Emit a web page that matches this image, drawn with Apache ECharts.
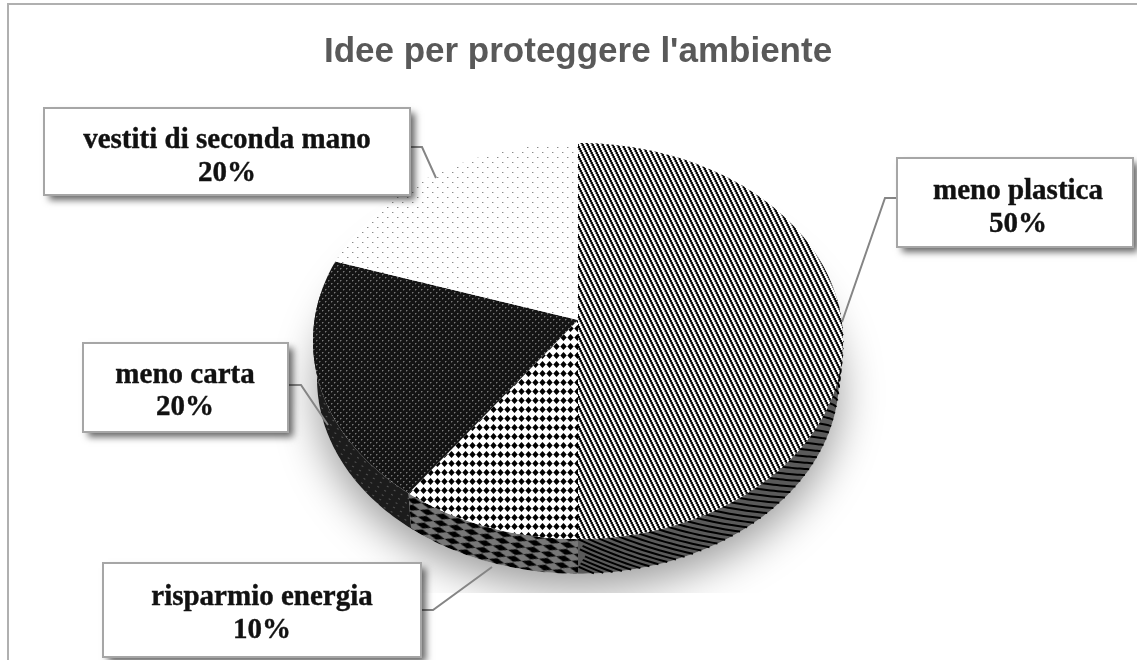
<!DOCTYPE html>
<html>
<head>
<meta charset="utf-8">
<style>
html,body{margin:0;padding:0;background:#fff;}
#chart{width:1137px;height:660px;}
</style>
<script src="https://cdn.jsdelivr.net/npm/echarts@6/dist/echarts.min.js"></script>
</head>
<body>
<div id="chart"></div>
<script>
// order is clockwise from 12 o'clock
var categories = ['meno plastica', 'risparmio energia', 'meno carta', 'vestiti di seconda mano'];
var values = [50, 10, 20, 20];
var chartTitle = "Idee per proteggere l'ambiente";

var total = values.reduce(function (a, b) { return a + b; }, 0);

// tilted disc: the apex sits above the ellipse centre because of the perspective
var cx = 578, cy = 320, R = 263.5, H = 195.8, K = 0.106;
var depth = 38, baseShrink = 0.015;

// level 0 is the top rim, level 1 the bottom rim of the side wall
function project(deg, level) {
    var t = deg * Math.PI / 180;
    var u = Math.sin(t), v = Math.cos(t), s = 1 / (1 + K * v);
    var scale = 1 - baseShrink * (level || 0);
    return [cx + R * u * s * scale, cy - H * v * s * scale + depth * (level || 0)];
}

function tile(w, h, paint) {
    var c = document.createElement('canvas');
    c.width = w;
    c.height = h;
    paint(c.getContext('2d'), w, h);
    return c;
}
function pattern(img, rotation) {
    return { image: img, repeat: 'repeat', rotation: rotation || 0 };
}
function diamond(g, x, y, rx, ry) {
    g.beginPath();
    g.moveTo(x - rx, y);
    g.lineTo(x, y - ry);
    g.lineTo(x + rx, y);
    g.lineTo(x, y + ry);
    g.closePath();
    g.fill();
}

var stripeTile = tile(5, 10, function (g, w, h) {
    var cols = ['#000', '#222', '#f4f4f4', '#fff', '#888'];
    for (var y = 0; y < h; y++) {
        for (var x = 0; x < w; x++) {
            g.fillStyle = cols[(x - Math.floor(y / 2) + 10) % 5];
            g.fillRect(x, y, 1, 1);
        }
    }
});
var diamondTile = tile(7, 9, function (g, w, h) {
    g.fillStyle = '#fff';
    g.fillRect(0, 0, w, h);
    g.fillStyle = '#000';
    diamond(g, 3.5, 4.5, 3.2, 3.5);
});
var darkTile = tile(6, 6, function (g, w, h) {
    g.fillStyle = '#141414';
    g.fillRect(0, 0, w, h);
    g.fillStyle = '#777';
    g.fillRect(1, 1, 1, 1);
    g.fillRect(4, 4, 1, 1);
    g.fillStyle = '#444';
    g.fillRect(2, 1, 1, 1);
    g.fillRect(5, 4, 1, 1);
    g.fillRect(1, 2, 1, 1);
    g.fillRect(4, 5, 1, 1);
});
var dotTile = tile(10, 10, function (g, w, h) {
    g.fillStyle = '#fff';
    g.fillRect(0, 0, w, h);
    g.fillStyle = '#8a8a8a';
    g.fillRect(2, 2, 1, 1);
    g.fillRect(7, 7, 1, 1);
    g.fillStyle = '#d0d0d0';
    g.fillRect(3, 2, 1, 1);
    g.fillRect(8, 7, 1, 1);
});
var wallDiamondTile = tile(16, 7, function (g, w, h) {
    g.fillStyle = '#777';
    g.fillRect(0, 0, w, h);
    g.fillStyle = '#000';
    diamond(g, 8, 3.5, 8, 3);
});
var wallDarkTile = tile(8, 5, function (g, w, h) {
    g.fillStyle = '#1c1c1c';
    g.fillRect(0, 0, w, h);
    g.fillStyle = '#555';
    g.fillRect(2, 2, 2, 1);
});

var faceTiles = [stripeTile, diamondTile, darkTile, dotTile];

function sliceRange(i) {
    var before = 0;
    for (var n = 0; n < i; n++) {
        before += values[n];
    }
    return [before / total * 360, (before + values[i]) / total * 360];
}

function renderShadow() {
    var rim = [];
    for (var d = 0; d < 360; d += 3) {
        rim.push(project(d, 1));
    }
    return {
        type: 'group',
        children: [{
            type: 'polygon',
            shape: { points: rim },
            style: { fill: '#fff', shadowColor: 'rgba(0,0,0,0.4)', shadowBlur: 44, shadowOffsetX: 0, shadowOffsetY: 15 }
        }, {
            type: 'rect',
            z2: 2,
            shape: { x: 20, y: 593, width: 1117, height: 67 },
            style: { fill: '#fff' }
        }]
    };
}

// the plastica wall has slanted stripes that wrap round the rim
function wallStripes(from, to) {
    var out = [];
    for (var a = to + 20; a > from; a -= 2) {
        var lean = 8 + (a - 90) * 0.07;
        var pts = [];
        for (var t = 0; t <= 1.001; t += 0.1) {
            var deg = a - lean * t;
            if (deg <= to) {
                pts.push(project(deg, t));
            }
        }
        if (pts.length > 1) {
            out.push(pts);
        }
    }
    return out;
}

function wallPolygon(from, to, fill) {
    var pts = [];
    for (var d = from; d < to; d += 1) { pts.push(project(d, 0)); }
    pts.push(project(to, 0));
    pts.push(project(to, 1));
    for (var e = to - 1; e >= from; e -= 1) { pts.push(project(e, 1)); }
    return { type: 'polygon', z2: 1, shape: { points: pts }, style: { fill: fill } };
}

function renderSlice(params) {
    var i = params.dataIndex;
    var range = sliceRange(i);
    var children = [];
    // side wall, only the part facing the viewer
    var from = Math.max(range[0], 82), to = Math.min(range[1], 278);
    if (i === 0) {
        children.push(wallPolygon(from, to, '#5a5a5a'));
        wallStripes(from, to).forEach(function (pts) {
            children.push({
                type: 'polyline',
                z2: 2,
                shape: { points: pts },
                style: { fill: null, stroke: '#000', lineWidth: 2 }
            });
        });
    } else if (i === 1) {
        children.push(wallPolygon(from, to, pattern(wallDiamondTile, 16 * Math.PI / 180)));
    } else if (to > from) {
        children.push(wallPolygon(from, to, pattern(wallDarkTile, 30 * Math.PI / 180)));
    }
    var face = [[cx, cy]];
    for (var t = range[0]; t < range[1]; t += 1) { face.push(project(t, 0)); }
    face.push(project(range[1], 0));
    children.push({
        type: 'polygon',
        z2: 5,
        shape: { points: face },
        style: { fill: pattern(faceTiles[i]) }
    });
    return { type: 'group', children: children };
}

// callout boxes: [x, y, width, height, text centre x, name y, pct y, leader points]
var calloutBoxes = [
    [897, 158, 236, 89, 1018, 192, 225, [[897, 198], [885, 198], [842, 322]]],
    [103, 563, 318, 94, 262, 598, 631, [[421, 610], [433, 610], [492, 567]]],
    [83, 343, 205, 89, 185, 376, 408, [[288, 385], [301, 385], [328, 425]]],
    [44, 108, 366, 87, 227, 141, 174, [[410, 147], [422, 147], [436, 178]]]
];
var labelFont = 'bold 29px "Liberation Serif"';

function labelText(x, y, text) {
    return {
        type: 'text',
        z2: 4,
        style: { x: x, y: y, text: text, font: labelFont, fill: '#111', stroke: '#111', lineWidth: 0.4, align: 'center', verticalAlign: 'middle' }
    };
}

function renderCallout(params, api) {
    var i = params.dataIndex;
    var b = calloutBoxes[i];
    var pct = Math.round(api.value(1) / total * 100) + '%';
    var box = { x: b[0], y: b[1], width: b[2], height: b[3] };
    return {
        type: 'group',
        children: [{
            type: 'polyline',
            shape: { points: b[7] },
            style: { fill: null, stroke: '#858585', lineWidth: 2 }
        }, {
            type: 'rect',
            z2: 2,
            shape: box,
            style: { fill: '#fff', shadowColor: 'rgba(0,0,0,0.6)', shadowBlur: 7, shadowOffsetX: 5, shadowOffsetY: 5 }
        }, {
            type: 'rect',
            z2: 3,
            shape: box,
            style: { fill: null, stroke: '#a6a6a6', lineWidth: 2 }
        }, labelText(b[4], b[5], categories[i]), labelText(b[4], b[6], pct)]
    };
}

var seriesData = categories.map(function (c, i) { return [i, values[i]]; });

var myChart = echarts.init(document.getElementById('chart'));
myChart.setOption({
    animation: false,
    backgroundColor: '#fff',
    tooltip: { show: false },
    title: {
        text: chartTitle,
        left: 573,
        top: 30,
        textAlign: 'center',
        textStyle: { fontFamily: 'Liberation Sans', fontWeight: 'bold', fontSize: 35, color: '#595959' }
    },
    graphic: [{
        type: 'polyline',
        silent: true,
        z: 10,
        shape: { points: [[8, 660], [8, 4], [1137, 4]] },
        style: { fill: null, stroke: '#b0b0b0', lineWidth: 2 }
    }],
    series: [{
        type: 'custom',
        coordinateSystem: 'none',
        silent: true,
        z: 2,
        data: [[0, 1]],
        renderItem: renderShadow
    }, {
        type: 'custom',
        coordinateSystem: 'none',
        silent: true,
        z: 3,
        data: seriesData,
        renderItem: renderSlice
    }, {
        type: 'custom',
        coordinateSystem: 'none',
        silent: true,
        z: 4,
        data: seriesData,
        renderItem: renderCallout
    }]
});
</script>
</body>
</html>
